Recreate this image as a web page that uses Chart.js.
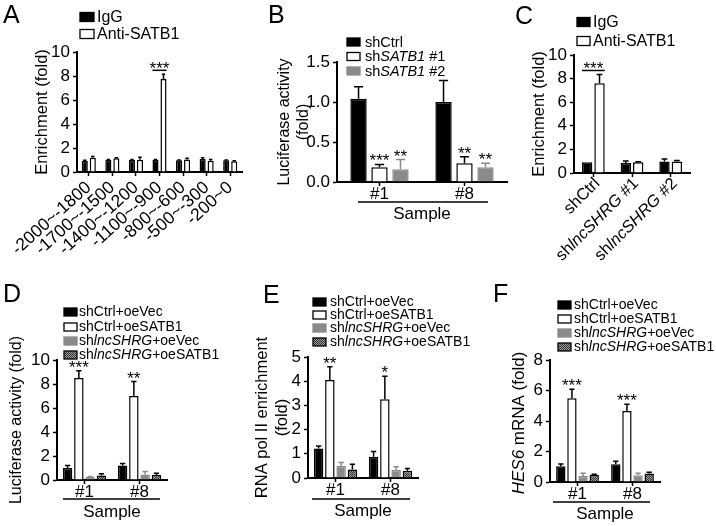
<!DOCTYPE html>
<html><head><meta charset="utf-8">
<script src="https://cdn.jsdelivr.net/npm/chart.js@4.4.1/dist/chart.umd.min.js"></script>
<style>
html,body{margin:0;padding:0;background:#fff;}
#wrap{position:relative;width:716px;height:526px;overflow:hidden;background:#fff;}
#wrap canvas{position:absolute;left:0;top:0;}
</style></head>
<body><div id="wrap">
<canvas id="cA" width="716" height="526"></canvas>
<canvas id="cB" width="716" height="526"></canvas>
<canvas id="cC" width="716" height="526"></canvas>
<canvas id="cD" width="716" height="526"></canvas>
<canvas id="cE" width="716" height="526"></canvas>
<canvas id="cF" width="716" height="526"></canvas>
</div>
<script>
// ---------------- DATA ----------------
// Panel A
const aCategories = ['-2000~-1800','-1700~-1500','-1400~-1200','-1100~-900','-800~-600','-500~-300','-200~0'];
const aIgG      = [0.92, 1.00, 1.00, 1.00, 0.97, 1.08, 0.97];
const aIgGErr   = [0.05, 0.04, 0.04, 0.04, 0.03, 0.11, 0.04];
const aAnti     = [1.19, 1.14, 1.03, 7.75, 1.05, 0.94, 0.89];
const aAntiErr  = [0.11, 0.04, 0.19, 0.39, 0.09, 0.11, 0.05];
const aSig      = [null, null, null, '***', null, null, null];

// Panel B
const bCategories = ['#1', '#8'];
const bShCtrl     = [1.04, 1.00];
const bShCtrlErr  = [0.15, 0.27];
const bSh1        = [0.185, 0.235];
const bSh1Err     = [0.035, 0.08];
const bSh2        = [0.16, 0.185];
const bSh2Err     = [0.12, 0.05];
const bSh1Stars   = ['***', '**'];
const bSh2Stars   = ['**', '**'];

// Panel C
const cCategories = ['shCtrl', 'sh<i>lncSHRG</i> #1', 'sh<i>lncSHRG</i> #2'];
const cIgG      = [0.92, 0.85, 0.97];
const cIgGErr   = [0.0, 0.16, 0.22];
const cAnti     = [7.6, 0.92, 0.97];
const cAntiErr  = [0.75, 0.04, 0.09];
const cSig      = ['***', null, null];

// Panels D, E, F share categories / series names
const defCategories = ['#1', '#8'];
const defSeries = ['shCtrl+oeVec', 'shCtrl+oeSATB1', 'sh<i>lncSHRG</i>+oeVec', 'sh<i>lncSHRG</i>+oeSATB1'];

// Panel D
const dVec      = [1.0, 1.2];   const dVecErr     = [0.2, 0.18];
const dSATB1    = [8.5, 7.0];   const dSATB1Err   = [0.6, 1.2];
const dShVec    = [0.25, 0.45]; const dShVecErr   = [0.05, 0.25];
const dShSATB1  = [0.38, 0.42]; const dShSATB1Err = [0.15, 0.15];
const dStars    = ['***', '**'];

// Panel E
const eVec      = [1.22, 0.88]; const eVecErr     = [0.1, 0.22];
const eSATB1    = [4.05, 3.25]; const eSATB1Err   = [0.55, 0.95];
const eShVec    = [0.5, 0.33];  const eShVecErr   = [0.14, 0.13];
const eShSATB1  = [0.35, 0.3];  const eShSATB1Err = [0.22, 0.09];
const eStars    = ['**', '*'];

// Panel F
const fVec      = [1.03, 1.16]; const fVecErr     = [0.15, 0.2];
const fSATB1    = [5.5, 4.65];  const fSATB1Err   = [0.58, 0.45];
const fShVec    = [0.4, 0.44];  const fShVecErr   = [0.17, 0.13];
const fShSATB1  = [0.46, 0.56]; const fShSATB1Err = [0.05, 0.08];
const fStars    = ['***', '***'];

// ---------------- HELPERS ----------------
const FONT = '"Liberation Sans", Arial, Helvetica, sans-serif';
Chart.defaults.font.family = FONT;
Chart.defaults.color = '#000';

function parseRich(s){
  const parts=[]; const re=/<i>(.*?)<\/i>/g; let last=0, m;
  while((m=re.exec(s))){ if(m.index>last) parts.push({t:s.slice(last,m.index),i:false}); parts.push({t:m[1],i:true}); last=re.lastIndex; }
  if(last<s.length) parts.push({t:s.slice(last),i:false});
  return parts;
}
function fontStr(size, italic){ return (italic?'italic ':'') + size + 'px ' + FONT; }
function drawRich(ctx, s, x, y, size, align){
  const parts = parseRich(s);
  let w = 0;
  for(const p of parts){ ctx.font = fontStr(size,p.i); w += ctx.measureText(p.t).width; }
  let cx = align==='right' ? x-w : (align==='center' ? x-w/2 : x);
  ctx.textAlign = 'left';
  for(const p of parts){ ctx.font = fontStr(size,p.i); ctx.fillText(p.t, cx, y); cx += ctx.measureText(p.t).width; }
}
function makePattern(){
  const c = document.createElement('canvas'); c.width = 2; c.height = 2;
  const x = c.getContext('2d');
  x.fillStyle = '#303030'; x.fillRect(0,0,2,2);
  x.fillStyle = '#a0a0a0'; x.fillRect(1,0,1,1); x.fillRect(0,1,1,1);
  return document.createElement('canvas').getContext('2d').createPattern(c,'repeat');
}
const PATTERN = makePattern();
const GREY = '#8a8a8a';

const STYLE = {
  black:   {backgroundColor:'#000', borderColor:'#000', borderWidth:1.5, errorColor:'#000'},
  white:   {backgroundColor:'#fff', borderColor:'#000', borderWidth:1.5, errorColor:'#000'},
  grey:    {backgroundColor:GREY,   borderColor:GREY,   borderWidth:1.5, errorColor:GREY},
  pattern: {backgroundColor:PATTERN,borderColor:'#000', borderWidth:1.5, errorColor:'#000'}
};
function ds(label, data, errors, style, extra){
  return Object.assign({label, data, errors, borderSkipped:'start'}, STYLE[style], extra||{});
}

// ---------------- PLUGIN ----------------
const figurePlugin = {
  id: 'figure',
  afterDatasetsDraw(chart, args, o){
    const ctx = chart.ctx, ys = chart.scales.y;
    ctx.save();
    chart.data.datasets.forEach((d, di) => {
      const meta = chart.getDatasetMeta(di);
      meta.data.forEach((el, j) => {
        const v = d.data[j], e = (d.errors||[])[j] || 0;
        const yTop = ys.getPixelForValue(v + e);
        const w = el.width;
        if (e > 0){
          ctx.strokeStyle = d.errorColor || '#000'; ctx.lineWidth = 1.5;
          ctx.beginPath();
          ctx.moveTo(el.x, el.y); ctx.lineTo(el.x, yTop);
          ctx.moveTo(el.x - w*0.28, yTop); ctx.lineTo(el.x + w*0.28, yTop);
          ctx.stroke();
        }
        ctx.fillStyle = '#000'; ctx.textBaseline = 'alphabetic';
        if (d.stars && d.stars[j]){
          ctx.font = fontStr(o.starSize||17); ctx.textAlign = 'center';
          ctx.fillText(d.stars[j], el.x, yTop + (o.starDy!=null?o.starDy:2));
        }
        if (d.sig && d.sig[j]){
          const prev = chart.getDatasetMeta(di-1).data[j];
          const ly = yTop - 4;
          const x1 = prev.x - prev.width/2, x2 = el.x + w/2;
          ctx.strokeStyle = '#000'; ctx.lineWidth = 1.5;
          ctx.beginPath(); ctx.moveTo(x1, ly); ctx.lineTo(x2, ly); ctx.stroke();
          ctx.font = fontStr(o.starSize||17); ctx.textAlign = 'center';
          ctx.fillText(d.sig[j], (x1+x2)/2, ly + 4);
        }
      });
    });
    ctx.restore();
  },
  afterDraw(chart, args, o){
    const ctx = chart.ctx, ca = chart.chartArea;
    ctx.save();
    ctx.fillStyle = '#000';
    if (o.letter){
      ctx.font = fontStr(25); ctx.textAlign='left'; ctx.textBaseline='alphabetic';
      ctx.fillText(o.letter.text, o.letter.x, o.letter.y);
    }
    if (o.legend){
      const L = o.legend;
      chart.data.datasets.forEach((d, i) => {
        const ry = L.rows[i];
        ctx.fillStyle = d.backgroundColor;
        ctx.fillRect(L.x, ry - L.bh/2, L.bw, L.bh);
        ctx.strokeStyle = d.borderColor; ctx.lineWidth = 1.3;
        ctx.strokeRect(L.x, ry - L.bh/2, L.bw, L.bh);
        ctx.fillStyle = '#000'; ctx.textBaseline = 'middle';
        drawRich(ctx, d.label, L.tx, ry + 0.5, L.size, 'left');
      });
    }
    if (o.underline){
      const u = o.underline;
      ctx.strokeStyle = '#000'; ctx.lineWidth = 1.5;
      ctx.beginPath();
      ctx.moveTo(ca.left + u.l, ca.bottom + u.dy); ctx.lineTo(ca.right - u.r, ca.bottom + u.dy);
      ctx.stroke();
    }
    if (o.yTitle){
      const t = o.yTitle;
      ctx.save();
      ctx.translate(t.x, (ca.top + ca.bottom)/2 + (t.dy||0));
      ctx.rotate(-Math.PI/2);
      ctx.fillStyle = '#000'; ctx.textBaseline = 'middle';
      drawRich(ctx, t.text, 0, 0, t.size, 'center');
      ctx.restore();
    }
    if (o.xTicks){
      const t = o.xTicks, xs = chart.scales.x;
      chart.data.labels.forEach((lab, i) => {
        const px = xs.getPixelForTick(i);
        ctx.save();
        ctx.translate(px + t.dx, ca.bottom + t.dy);
        ctx.rotate(-t.angle * Math.PI/180);
        ctx.fillStyle = '#000'; ctx.textBaseline = 'middle';
        drawRich(ctx, lab, 0, 0, t.size, 'right');
        ctx.restore();
      });
    }
    ctx.restore();
  }
};

// ---------------- CHART BUILDER ----------------
function build(id, g){
  const padding = {left: g.L - g.yW, right: 716 - g.R, top: g.T, bottom: 526 - g.B - g.xH};
  const axisGrid = {display:true, drawOnChartArea:false, drawTicks:true, tickLength:4, tickWidth:1.5, tickColor:'#000', offset:false};
  const border = {display:true, color:'#000', width:2};
  const x = {
    type:'category', offset:true, grid:axisGrid, border,
    ticks: g.xTickOpts || {display:true, font:{size:17, lineHeight:1}, padding:0, color:'#000', maxRotation:0, minRotation:0, autoSkip:false},
    title: g.xTitle ? {display:true, text:g.xTitle, font:{size:17, lineHeight:1.2}, padding:0, color:'#000'} : {display:false},
    afterFit(s){ s.height = g.xH; }
  };
  const y = {
    min:0, max:g.yMax, grid:Object.assign({}, axisGrid), border,
    ticks:{stepSize:g.yStep, font:{size:17}, padding:3, color:'#000', autoSkip:false,
           callback: g.yFmt || (v => String(v))},
    title: g.yTitleOpts || {display:false},
    afterFit(s){ s.width = g.yW; }
  };
  return new Chart(document.getElementById(id), {
    type:'bar',
    data:{labels:g.labels, datasets:g.datasets},
    options:{
      responsive:false, animation:false, events:[],
      layout:{padding},
      datasets:{bar:{categoryPercentage:g.cat, barPercentage:g.bar}},
      plugins:{legend:{display:false}, tooltip:{enabled:false}, figure:g.extras},
      scales:{x, y}
    },
    plugins:[figurePlugin]
  });
}

// Panel A
build('cA', {
  L:77, R:242, T:52, B:172, yW:45, xH:85, yMax:10, yStep:2, cat:0.68, bar:0.76,
  labels:aCategories,
  datasets:[ ds('IgG', aIgG, aIgGErr, 'black'), ds('Anti-SATB1', aAnti, aAntiErr, 'white', {sig:aSig}) ],
  xTickOpts:{display:true, font:{size:17.5, lineHeight:1.1}, padding:2, color:'#000', maxRotation:42, minRotation:42, autoSkip:false},
  yTitleOpts:{display:true, text:'Enrichment (fold)', font:{size:16.5, lineHeight:1.2}, padding:{top:1,bottom:0}, color:'#000'},
  extras:{letter:{text:'A', x:3, y:23}, legend:{x:80, tx:97, rows:[17,34], size:16, bw:14, bh:9}}
});

// Panel B
build('cB', {
  L:337, R:507, T:62, B:182, yW:63.5, xH:42.2, yMax:1.5, yStep:0.5, cat:0.74, bar:0.78,
  labels:bCategories, xTitle:'Sample', yFmt: v => v.toFixed(1),
  datasets:[ ds('shCtrl', bShCtrl, bShCtrlErr, 'black'),
             ds('sh<i>SATB1</i> #1', bSh1, bSh1Err, 'white', {stars:bSh1Stars}),
             ds('sh<i>SATB1</i> #2', bSh2, bSh2Err, 'grey', {stars:bSh2Stars}) ],
  yTitleOpts:{display:true, text:['Luciferase activity','(fold)'], font:{size:16, lineHeight:1.2}, padding:{top:1.5,bottom:0}, color:'#000'},
  extras:{letter:{text:'B', x:268, y:23}, legend:{x:347, tx:365, rows:[42,56.5,71], size:14.5, bw:13, bh:8},
          underline:{l:21, r:19, dy:20}}
});

// Panel C
build('cC', {
  L:574, R:690, T:55, B:173, yW:45, xH:80, yMax:10, yStep:2, cat:0.64, bar:0.84,
  labels:cCategories,
  datasets:[ ds('IgG', cIgG, cIgGErr, 'black'), ds('Anti-SATB1', cAnti, cAntiErr, 'white', {sig:cSig}) ],
  xTickOpts:{display:false},
  yTitleOpts:{display:true, text:'Enrichment (fold)', font:{size:16.5, lineHeight:1.2}, padding:{top:1,bottom:0}, color:'#000'},
  extras:{letter:{text:'C', x:515, y:24}, legend:{x:577, tx:593, rows:[22,41], size:16, bw:13, bh:9},
          xTicks:{dx:4, dy:8, angle:45, size:16.5}}
});

function defSets(a, ae, b, be, c, ce, d, de, stars){
  return [ ds(defSeries[0], a, ae, 'black'),
           ds(defSeries[1], b, be, 'white', {stars}),
           ds(defSeries[2], c, ce, 'grey'),
           ds(defSeries[3], d, de, 'pattern') ];
}

// Panel D
build('cD', {
  L:57, R:167, T:360, B:480, yW:51, xH:42.2, yMax:10, yStep:2, cat:0.82, bar:0.84,
  labels:defCategories, xTitle:'Sample',
  datasets: defSets(dVec, dVecErr, dSATB1, dSATB1Err, dShVec, dShVecErr, dShSATB1, dShSATB1Err, dStars),
  yTitleOpts:{display:true, text:'Luciferase activity (fold)', font:{size:16, lineHeight:1.2}, padding:{top:1,bottom:0}, color:'#000'},
  extras:{letter:{text:'D', x:3, y:302}, legend:{x:64, tx:79, rows:[312,327,341,355], size:14, bw:13, bh:8},
          underline:{l:6, r:7, dy:19}}
});

// Panel E
build('cE', {
  L:308, R:418, T:357, B:478, yW:56.7, xH:43.5, yMax:5, yStep:1, cat:0.82, bar:0.84,
  labels:defCategories, xTitle:'Sample',
  datasets: defSets(eVec, eVecErr, eSATB1, eSATB1Err, eShVec, eShVecErr, eShSATB1, eShSATB1Err, eStars),
  yTitleOpts:{display:true, text:['RNA pol II enrichment','(fold)'], font:{size:16.5, lineHeight:1.2}, padding:{top:1.5,bottom:0}, color:'#000'},
  extras:{letter:{text:'E', x:263, y:303}, legend:{x:313, tx:330, rows:[302,315,328,342], size:14, bw:13, bh:8},
          underline:{l:4, r:8, dy:21}}
});

// Panel F
build('cF', {
  L:550, R:660, T:360, B:482, yW:50, xH:42.2, yMax:8, yStep:2, cat:0.81, bar:0.84,
  labels:defCategories, xTitle:'Sample',
  datasets: defSets(fVec, fVecErr, fSATB1, fSATB1Err, fShVec, fShVecErr, fShSATB1, fShSATB1Err, fStars),
  extras:{letter:{text:'F', x:493, y:302}, legend:{x:558, tx:574, rows:[305,319,333,347], size:14, bw:13, bh:8},
          underline:{l:3, r:10, dy:20}, yTitle:{text:'<i>HES6</i> mRNA (fold)', x:519, size:17, dy:2}}
});
</script>
</body></html>
